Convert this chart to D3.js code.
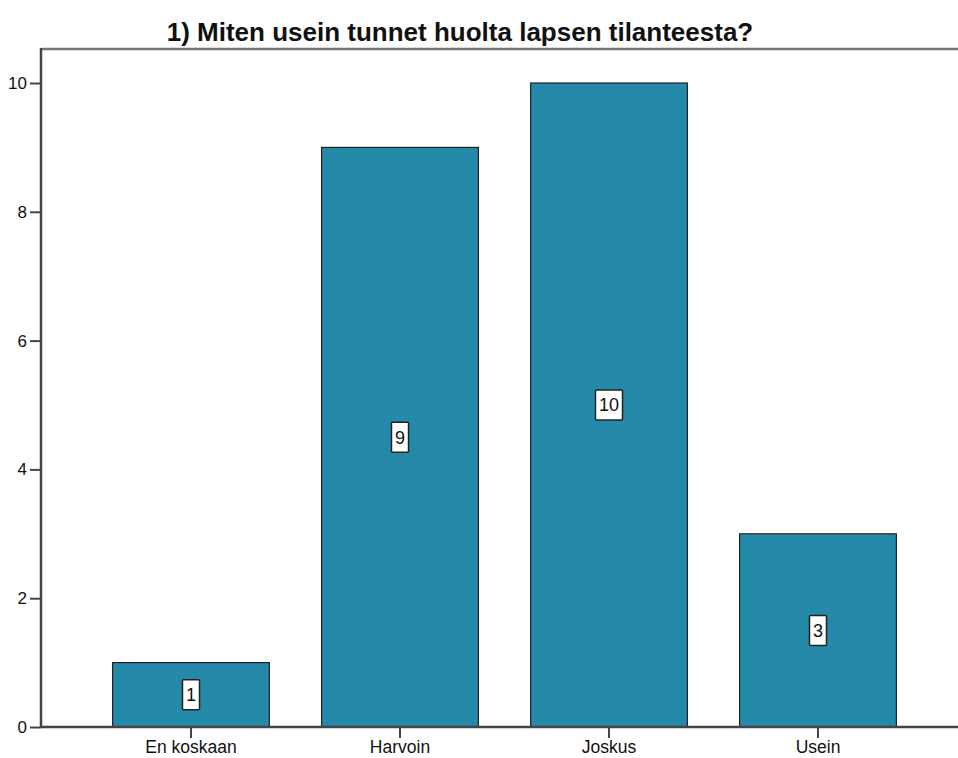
<!DOCTYPE html>
<html lang="fi">
<head>
    <meta charset="UTF-8">
    <title>Miten usein tunnet huolta lapsen tilanteesta?</title>
    <script src="https://cdn.jsdelivr.net/npm/d3@7/dist/d3.min.js"></script>
    <style>
        body { margin: 0; background: #fff; }
        text { font-family: "Liberation Sans", Arial, sans-serif; fill: #111; }
    </style>
</head>
<body>
<div id="chart"></div>
<script>

    // data
    var categories = ["En koskaan", "Harvoin", "Joskus", "Usein"];
    var counts = [1, 9, 10, 3];
    var yTicks = [0, 2, 4, 6, 8, 10];
    var title = "1) Miten usein tunnet huolta lapsen tilanteesta?";

    var width = 958;
    var height = 758;

    // plot frame
    var frameLeft = 41, frameRight = 958, frameTop = 49, frameBottom = 727;

    var svg = d3.select("#chart")
        .append("svg")
        .attr("width", width)
        .attr("height", height);

    var x = d3.scaleBand()
        .domain(categories)
        .range([86.5, 922.5])
        .paddingInner(0.25)
        .paddingOuter(0.125);

    var y = d3.scaleLinear()
        .domain([0, 10])
        .range([frameBottom, 83]);

    // title
    svg.append("text")
        .attr("x", 460)
        .attr("y", 41)
        .attr("text-anchor", "middle")
        .style("font-size", "26px")
        .style("font-weight", "bold")
        .text(title);

    // bars
    svg.selectAll("rect.bar")
        .data(counts)
        .enter()
        .append("rect")
        .attr("class", "bar")
        .attr("x", function(d, i) { return x(categories[i]); })
        .attr("y", function(d) { return y(d); })
        .attr("width", x.bandwidth())
        .attr("height", function(d) { return y(0) - y(d); })
        .style("fill", "#258aaa")
        .style("stroke", "#222")
        .style("stroke-width", 1.2);

    // axes
    var yAxis = svg.append("g")
        .attr("transform", "translate(" + frameLeft + ",0)")
        .call(d3.axisLeft(y).tickValues(yTicks).tickSize(11).tickPadding(3));
    yAxis.select(".domain").remove();
    yAxis.selectAll("line").style("stroke", "#444").style("stroke-width", 2);
    yAxis.selectAll("text").style("font-size", "17px").style("font-family", "Liberation Sans, Arial, sans-serif").attr("fill", "#111");

    var xAxis = svg.append("g")
        .attr("transform", "translate(0," + frameBottom + ")")
        .call(d3.axisBottom(x).tickSize(11).tickPadding(3));
    xAxis.select(".domain").remove();
    xAxis.selectAll("line").style("stroke", "#444").style("stroke-width", 2);
    xAxis.selectAll("text").style("font-size", "17.5px").style("font-family", "Liberation Sans, Arial, sans-serif").attr("fill", "#111");

    // frame lines
    svg.append("line")
        .attr("x1", frameLeft).attr("x2", frameRight)
        .attr("y1", frameTop).attr("y2", frameTop)
        .style("stroke", "#777").style("stroke-width", 2.5);
    svg.append("line")
        .attr("x1", frameLeft).attr("x2", frameLeft)
        .attr("y1", frameTop - 1).attr("y2", frameBottom + 1)
        .style("stroke", "#444").style("stroke-width", 2.5);
    svg.append("line")
        .attr("x1", frameLeft).attr("x2", frameRight)
        .attr("y1", frameBottom).attr("y2", frameBottom)
        .style("stroke", "#444").style("stroke-width", 2.5);

    // value labels in boxes
    var labels = svg.selectAll("g.vlabel")
        .data(counts)
        .enter()
        .append("g")
        .attr("class", "vlabel")
        .attr("transform", function(d, i) {
            return "translate(" + (x(categories[i]) + x.bandwidth() / 2) + "," + y(d / 2) + ")";
        });

    labels.append("text")
        .attr("text-anchor", "middle")
        .attr("dy", "0.36em")
        .style("font-size", "18px")
        .text(function(d) { return d; });

    labels.insert("rect", "text")
        .each(function() {
            var bb = this.parentNode.querySelector("text").getBBox();
            var w = bb.width + 7;
            d3.select(this)
                .attr("x", -w / 2)
                .attr("y", -15)
                .attr("width", w)
                .attr("height", 30);
        })
        .style("fill", "#fff")
        .style("stroke", "#222")
        .style("stroke-width", 1.5)
        .attr("rx", 1);

</script>
</body>
</html>
